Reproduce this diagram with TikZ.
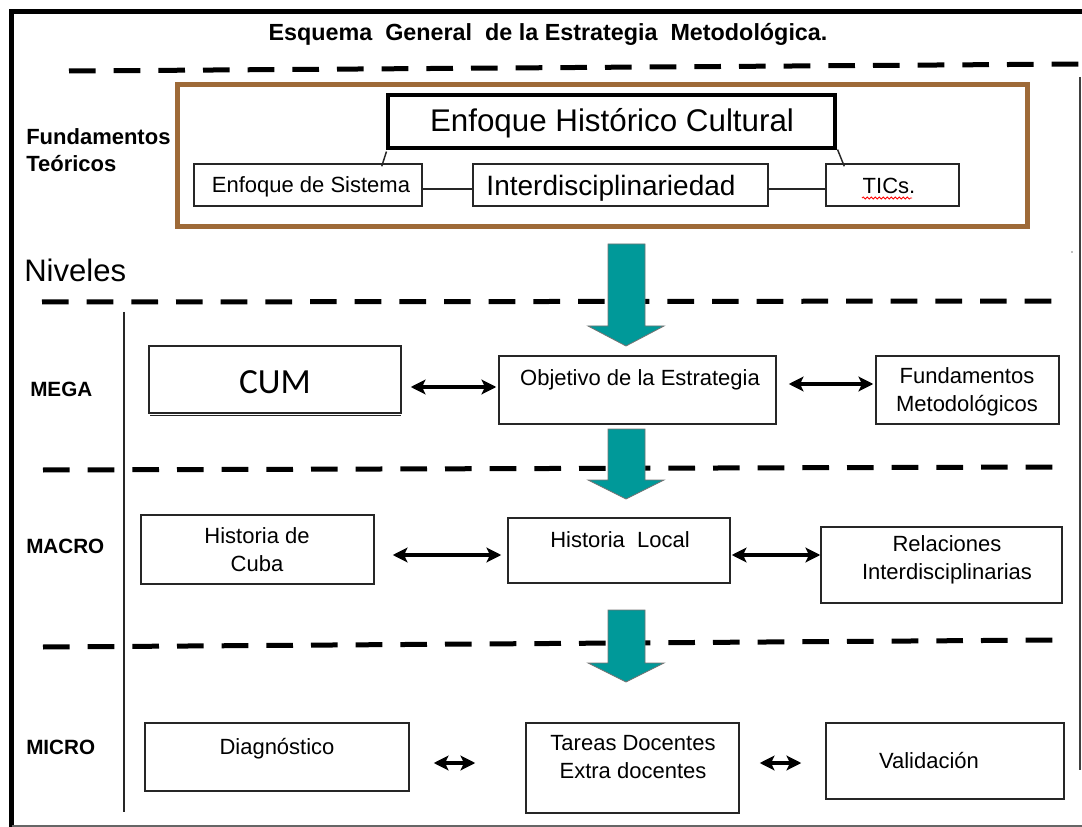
\documentclass[tikz,border=0pt]{standalone}
\usepackage{fontspec}
\setmainfont{Liberation Sans}
\newfontfamily\carlitofont{Carlito}
\usetikzlibrary{arrows.meta,calc,fit,decorations.pathmorphing}
\definecolor{tealc}{RGB}{0,153,153}
\definecolor{brownc}{RGB}{158,106,56}
\begin{document}
\begin{tikzpicture}[x=0.75pt,y=-0.75pt,
  box/.style={draw=black!85, line width=1.1pt, inner sep=0pt},
  txt/.style={inner sep=0pt, font=\fontsize{16.5}{21}\selectfont, align=center},
  lvl/.style={inner sep=0pt, anchor=west, font=\fontsize{15.5}{19}\selectfont\bfseries},
  dashln/.style={line width=3.75pt, dash pattern=on 20pt off 13.5pt},
  dbl/.style={line width=2.6pt, {Stealth[length=11pt,width=11pt,inset=2.5pt]}-{Stealth[length=11pt,width=11pt,inset=2.5pt]}},
  tealarr/.style={fill=tealc, draw=black!55, line width=0.6pt},
  thinln/.style={line width=1.1pt, draw=black!85}]
\useasboundingbox (0,0) rectangle (1082,827);
\fill[white] (0,0) rectangle (1082,827);

% frame
\draw[line width=3.75pt] (9,12) -- (1082,12);
\draw[line width=4pt] (11.5,10) -- (11.5,827);
\draw[line width=1.3pt, black!75] (1080,77) -- (1080,770);
\draw[line width=1.1pt, black!60] (12,826) -- (1082,826);
\fill[black!50] (1072,252) circle (0.9);

% title
\node[inner sep=0pt, font=\fontsize{17.5}{20}\selectfont\bfseries] (title) at (548,34)
  {Esquema\ \ General\ \ de la Estrategia\ \ Metodológica.};

% dashed separators
\draw[dashln] (69,71) -- (1082,64);
\draw[dashln] (42,302) -- (1058,301);
\draw[dashln] (43,470) -- (1055,467);
\draw[dashln] (43,647) -- (1055,640);

% left vertical rule
\draw[thinln] (124,312) -- (124,812);

% fundamentos teoricos block
\node[draw=brownc, line width=3.75pt, inner sep=0pt, fit={(177,85) (1027,227)}] (ft) {};
\node[draw=black, line width=2.3pt, inner sep=0pt, fit={(388,95) (835,148)}] (ehc) {};
\node[inner sep=0pt, font=\fontsize{23.5}{28}\selectfont] at (612,123) {Enfoque Histórico Cultural};
\node[box, fit={(194,164) (422,206)}] (es) {};
\node[inner sep=0pt, font=\fontsize{16.5}{20}\selectfont] at (311,187) {Enfoque de Sistema};
\node[box, fit={(473,164) (768,206)}] (id) {};
\node[inner sep=0pt, font=\fontsize{21}{25}\selectfont] at (611,188) {Interdisciplinariedad};
\node[box, fit={(826,164) (959,206)}] (tic) {};
\node[inner sep=0pt, font=\fontsize{16.5}{20}\selectfont] (tict) at (889,186) {TICs.};
\draw[red, line width=0.6pt, decorate, decoration={snake, amplitude=0.8pt, segment length=3pt}] (862,198) -- (912,198);
\draw[thinln] ($(es.east)+(0,4)$) -- ($(id.west)+(0,4)$);
\draw[thinln] ($(id.east)+(0,4)$) -- ($(tic.west)+(0,4)$);
\draw[thinln] ($(ehc.south west)+(0,2)$) -- ($(es.north east)+(-41,3)$);
\draw[thinln] ($(ehc.south east)+(1,0)$) -- ($(tic.north west)+(19,3)$);

\node[inner sep=0pt, anchor=west, align=left, font=\fontsize{16.5}{20.5}\selectfont\bfseries] (fund) at (26,150)
  {Fundamentos\\Teóricos};
\node[inner sep=0pt, anchor=base west, font=\fontsize{23.3}{28}\selectfont] (niv) at (24,282) {Niveles};

% level labels
\node[lvl] (mega) at (30,389) {MEGA};
\node[lvl] (macro) at (26,546) {MACRO};
\node[lvl] (micro) at (26,747) {MICRO};

% MEGA row
\draw[thinln] (150,415.5) -- (401,415.5);
\node[box, fit={(149,346) (401,413)}] (cum) {};
\node[inner sep=0pt, font=\fontsize{26.5}{30}\selectfont\carlitofont] at (275,382) {CUM};
\node[box, fit={(499,356) (776,424)}] (obj) {};
\node[txt] at (640,380) {Objetivo de la Estrategia};
\node[box, fit={(876,356) (1059,424)}] (fm) {};
\node[txt] at (967,392) {Fundamentos\\Metodológicos};
\draw[dbl] ($(cum.east)+(9,7.5)$) -- ($(obj.west)+(-2,-3)$);
\draw[dbl] ($(obj.east)+(12,-6)$) -- ($(fm.west)+(-2,-6)$);

% MACRO row
\node[box, fit={(141,515) (374,584)}] (hc) {};
\node[txt] at (257,550) {Historia de\\Cuba};
\node[box, fit={(508,518) (730,583)}] (hl) {};
\node[txt] at (620,540) {Historia\ \ Local};
\node[box, fit={(821,527) (1062,603)}] (ri) {};
\node[txt] at (947,560) {Relaciones\\Interdisciplinarias};
\draw[dbl] ($(hc.east)+(18,5.5)$) -- ($(hl.west)+(-6,4.5)$);
\draw[dbl] ($(hl.east)+(1,4.5)$) -- ($(ri.west)+(0,-10)$);

% MICRO row
\node[box, fit={(145,723) (409,791)}] (dg) {};
\node[txt] at (277,749) {Diagnóstico};
\node[box, fit={(526,723) (739,813)}] (td) {};
\node[txt] at (633,757) {Tareas Docentes\\Extra docentes};
\node[box, fit={(826,723) (1064,799)}] (va) {};
\node[txt] at (929,761) {Validación};
\draw[dbl] ($(dg.east)+(24,6)$) -- ($(td.west)+(-50,-5)$);
\draw[dbl] ($(td.east)+(20,-5)$) -- ($(va.west)+(-24,2)$);

% teal arrows
\draw[tealarr] (608,244) -- (645,244) -- (645,326) -- (664,326) -- (626,346) -- (588,326) -- (608,326) -- cycle;
\draw[tealarr] (608,429) -- (645,429) -- (645,480) -- (664,480) -- (626,499) -- (588,480) -- (608,480) -- cycle;
\draw[tealarr] (608,610) -- (645,610) -- (645,663) -- (664,663) -- (626,682) -- (588,663) -- (608,663) -- cycle;
\end{tikzpicture}
\end{document}
